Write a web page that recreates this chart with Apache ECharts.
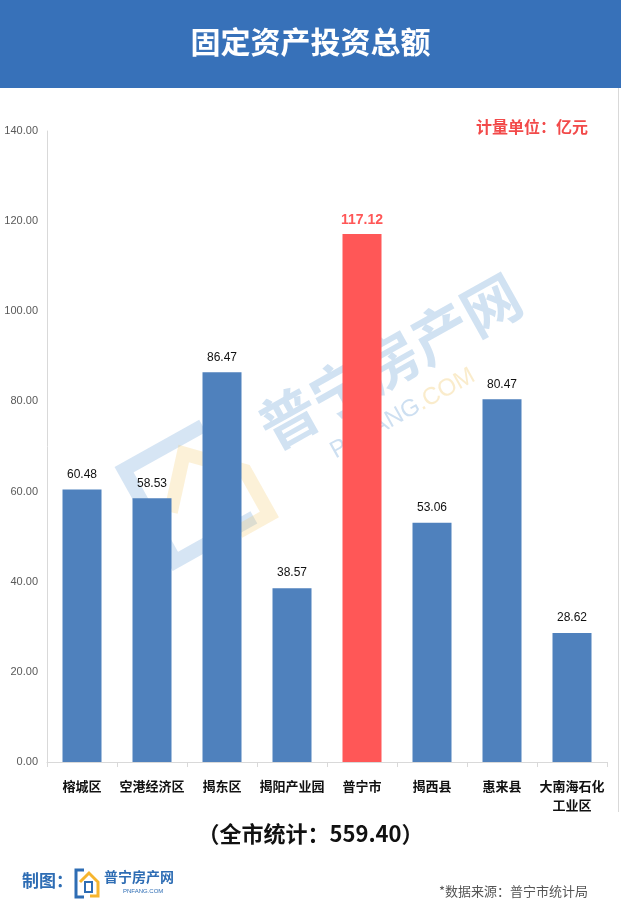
<!DOCTYPE html>
<html>
<head>
<meta charset="utf-8">
<script src="https://cdn.jsdelivr.net/npm/echarts@6/dist/echarts.min.js"></script>
<style>
html,body{margin:0;padding:0;background:#fff;}
#c{width:621px;height:923px;}
</style>
</head>
<body>
<div id="c"></div>
<script>
var categories = ['榕城区', '空港经济区', '揭东区', '揭阳产业园', '普宁市', '揭西县', '惠来县', '大南海石化\n工业区'];
var values = [60.48, 58.53, 86.47, 38.57, 117.12, 53.06, 80.47, 28.62];
var highlightIndex = 4;
var titleText = '固定资产投资总额';
var unitText = '计量单位：亿元';
var totalText = '（全市统计：559.40）';
var sourceText = '*数据来源：普宁市统计局';

var FONT = '"Noto Sans CJK SC", "Noto Sans", sans-serif';
var chart = echarts.init(document.getElementById('c'), null, {renderer: 'canvas'});

var data = values.map(function (v, i) {
  if (i === highlightIndex) {
    return {
      value: v,
      itemStyle: {color: '#FF5757'},
      label: {color: '#FF5757', fontWeight: 'bold', fontSize: 14, distance: 7}
    };
  }
  return v;
});

chart.setOption({
  backgroundColor: '#ffffff',
  animation: false,
  grid: {left: 47, right: 14, top: 131, bottom: 161, containLabel: false},
  xAxis: {
    type: 'category',
    data: categories,
    boundaryGap: true,
    axisLine: {lineStyle: {color: '#d9d9d9', width: 1}},
    axisTick: {show: true, alignWithLabel: false, length: 5, lineStyle: {color: '#d9d9d9'}},
    axisLabel: {
      interval: 0, color: '#111', fontSize: 13, fontWeight: 'bold',
      fontFamily: FONT, margin: 15, lineHeight: 19
    }
  },
  yAxis: {
    type: 'value',
    min: 0, max: 140, interval: 20,
    axisLine: {show: true, lineStyle: {color: '#d9d9d9'}},
    axisTick: {show: false},
    splitLine: {show: false},
    axisLabel: {
      color: '#595959', fontSize: 11, fontFamily: '"Liberation Sans", Arial, sans-serif', margin: 9,
      formatter: function (v) { return v.toFixed(2); }
    }
  },
  series: [{
    type: 'bar',
    data: data,
    barWidth: 39,
    itemStyle: {color: '#4F81BD'},
    label: {
      show: true, position: 'top', distance: 9,
      color: '#111', fontSize: 12, fontFamily: '"Liberation Sans", Arial, sans-serif',
      formatter: function (p) { return p.value.toFixed(2); }
    },
    z: 2
  }],
  graphic: [
    {type: 'rect', left: 0, top: 0, shape: {width: 621, height: 88}, style: {fill: '#3771B9'}, z: 0},
    {type: 'text', left: 'center', top: 27, style: {text: titleText, fill: '#fff', font: 'bold 30px ' + FONT}},
    {type: 'line', shape: {x1: 618.5, y1: 88, x2: 618.5, y2: 812}, style: {stroke: '#d9d9d9', lineWidth: 1}},
    {type: 'text', right: 33, top: 119, style: {text: unitText, fill: '#F24A4A', font: 'bold 16px ' + FONT}},
    {type: 'text', left: 'center', top: 823, style: {text: totalText, fill: '#111', font: 'bold 22px ' + FONT}},
    {type: 'text', left: 22, top: 872, style: {text: '制图：', fill: '#2E6DB4', font: 'bold 17px ' + FONT}},
    // small logo
    {type: 'polyline', shape: {points: [[84, 870], [76, 870], [76, 897], [84, 897]]}, style: {stroke: '#2E6DB4', lineWidth: 3, fill: null}},
    {type: 'polyline', shape: {points: [[80, 882], [89, 873], [98, 882], [98, 896], [90, 896]]}, style: {stroke: '#F6B52E', lineWidth: 3, fill: null}},
    {type: 'rect', shape: {x: 85, y: 882, width: 7, height: 10}, style: {stroke: '#2E6DB4', lineWidth: 2, fill: null}},
    {type: 'text', left: 104, top: 870, style: {text: '普宁房产网', fill: '#2E6DB4', font: 'bold 14px ' + FONT}},
    {type: 'text', left: 123, top: 888, style: {text: 'PNFANG.COM', fill: '#2E6DB4', font: '6px "Liberation Sans", sans-serif'}},
    {type: 'text', right: 33, top: 885, style: {text: sourceText, fill: '#555', font: '13px ' + FONT}},
    // watermark
    {
      type: 'group', x: 345, y: 455, rotation: 0.51, z: 100, silent: true,
      children: [
        {type: 'text', x: -60, y: -60, style: {text: '普宁房产网', fill: 'rgba(90,150,210,0.28)', font: 'bold 58px ' + FONT, textAlign: 'left', textVerticalAlign: 'middle'}},
        {type: 'text', x: -10, y: -8, style: {text: '{a|PNFANG}{b|.COM}', rich: {a: {fill: 'rgba(90,150,210,0.3)', font: '24px "Liberation Sans", sans-serif'}, b: {fill: 'rgba(240,200,110,0.35)', font: '24px "Liberation Sans", sans-serif'}}, textAlign: 'left', textVerticalAlign: 'middle'}},
        {type: 'polyline', shape: {points: [[-110, -95], [-200, -95], [-200, 10], [-110, 10]]}, style: {stroke: 'rgba(90,150,210,0.25)', lineWidth: 14, fill: null}},
        {type: 'polyline', shape: {points: [[-180, -35], [-140, -80], [-95, -35], [-95, 15], [-130, 15]]}, style: {stroke: 'rgba(245,200,100,0.25)', lineWidth: 14, fill: null}}
      ]
    }
  ]
});
</script>
</body>
</html>
